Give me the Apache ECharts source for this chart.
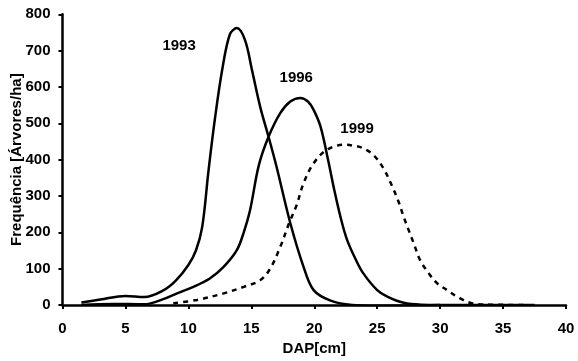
<!DOCTYPE html>
<html>
<head>
<meta charset="utf-8">
<script src="https://cdn.jsdelivr.net/npm/echarts@6/dist/echarts.min.js"></script>
<style>
  html, body { margin: 0; padding: 0; background: #fff; }
  #chart { width: 578px; height: 361px; }
</style>
</head>
<body>
<div id="chart"></div>
<script>
// DAP (cm) / frequency (trees/ha)
const dap1993 = [1.5, 3, 5, 6.5, 8, 9, 10, 10.6, 11.1, 11.6, 12.1, 12.7, 13.3, 13.85, 14.5, 15.05, 15.7, 16.37, 17, 18.1, 19.15, 19.95, 21.3, 23, 25, 30];
const freq1993 = [7, 15, 25, 22, 40, 67, 110, 150, 215, 370, 510, 650, 745, 762, 729, 647, 546, 463, 381, 225, 105, 41, 12, 0, -2, 0];

const dap1996 = [1.5, 4, 6.5, 8, 9.1, 10.4, 11.7, 12.8, 13.85, 14.4, 14.9, 15.6, 16.37, 17.3, 18.1, 18.9, 19.5, 19.95, 20.5, 21.1, 21.6, 22.1, 22.6, 23.3, 23.9, 25, 25.8, 27.1, 28.5, 32, 37.5];
const freq1996 = [0, 3, 2, 16, 32, 50, 73, 105, 151, 200, 261, 385, 463, 528, 560, 570, 560, 537, 491, 399, 315, 240, 180, 125, 87, 41, 23, 6, 1, 0, 0];

const dap1999 = [8.8, 10.7, 12.8, 14.4, 15.7, 16.5, 17.3, 18, 18.6, 19.15, 19.95, 21, 22.4, 23.2, 23.9, 24.7, 25.5, 26.2, 26.7, 27.1, 27.5, 27.9, 28.4, 29.1, 29.75, 30.55, 31.35, 32.5, 34, 37];
const freq1999 = [5, 14, 32, 50, 68, 100, 160, 225, 275, 335, 390, 427, 441, 438, 431, 413, 376, 326, 284, 243, 206, 170, 124, 87, 60, 41, 23, 5, 1, 0];

const yearLabels = ['1993', '1996', '1999'];
const labelPos = [[9.26, 713], [18.57, 626], [23.4, 484]];

const xTicks = { min: 0, max: 40, interval: 5 };
const yTicks = { min: 0, max: 800, interval: 100 };

const font = '"Liberation Sans", Arial, sans-serif';

const zip = (xs, ys) => xs.map((x, i) => [x, ys[i]]);

const chart = echarts.init(document.getElementById('chart'));

const makeSeries = (idx, data, dashed) => ({
  name: yearLabels[idx],
  type: 'line',
  data: data,
  smooth: 0.35,
  showSymbol: false,
  symbol: 'none',
  lineStyle: {
    color: '#000',
    width: 2.5,
    type: dashed ? [5, 5] : 'solid'
  },
  markPoint: {
    symbol: 'circle',
    symbolSize: 0,
    silent: true,
    label: {
      show: true,
      position: 'inside',
      formatter: yearLabels[idx],
      color: '#000',
      fontWeight: 'bold',
      fontSize: 15,
      fontFamily: font
    },
    data: [{ coord: labelPos[idx] }]
  }
});

chart.setOption({
  animation: false,
  grid: { left: 62.5, right: 12, top: 14.3, bottom: 56, containLabel: false, outerBoundsMode: 'none' },
  xAxis: {
    type: 'value',
    min: xTicks.min,
    max: xTicks.max,
    interval: xTicks.interval,
    name: 'DAP[cm]',
    nameLocation: 'middle',
    nameGap: 36,
    nameMoveOverlap: false,
    nameTextStyle: { color: '#000', fontWeight: 'bold', fontSize: 15, fontFamily: font },
    axisLine: { onZero: false, lineStyle: { color: '#000', width: 2.5 } },
    axisTick: { show: true, length: 4, lineStyle: { color: '#000', width: 2 } },
    axisLabel: { color: '#000', fontWeight: 'bold', fontSize: 15, fontFamily: font, margin: 16 },
    splitLine: { show: false }
  },
  yAxis: {
    type: 'value',
    min: yTicks.min,
    max: yTicks.max,
    interval: yTicks.interval,
    name: 'Frequência [Árvores/ha]',
    nameLocation: 'middle',
    nameGap: 38,
    nameMoveOverlap: false,
    nameTextStyle: { color: '#000', fontWeight: 'bold', fontSize: 15, fontFamily: font },
    axisLine: { show: true, lineStyle: { color: '#000', width: 2.5 } },
    axisTick: { show: true, length: 4, lineStyle: { color: '#000', width: 2 } },
    axisLabel: { color: '#000', fontWeight: 'bold', fontSize: 15, fontFamily: font, margin: 12 },
    splitLine: { show: false }
  },
  series: [
    makeSeries(0, zip(dap1993, freq1993), false),
    makeSeries(1, zip(dap1996, freq1996), false),
    makeSeries(2, zip(dap1999, freq1999), true)
  ]
});
</script>
</body>
</html>
